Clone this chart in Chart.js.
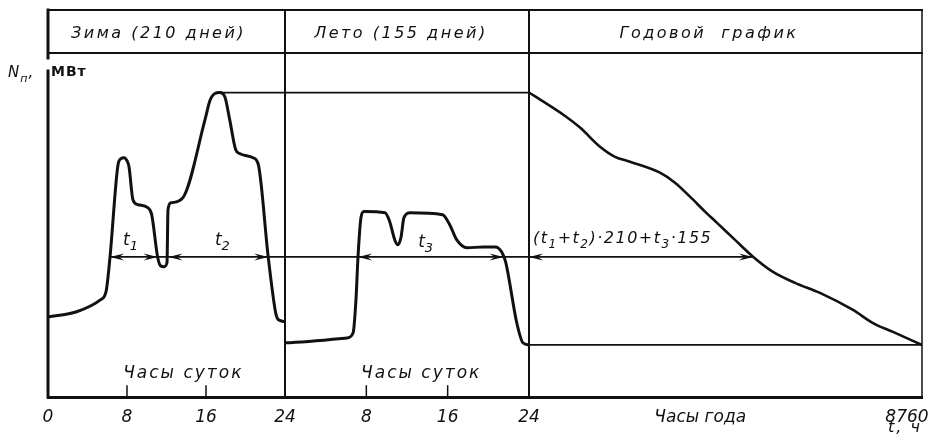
<!DOCTYPE html>
<html lang="ru">
<head>
<meta charset="utf-8">
<title>Графики нагрузки</title>
<script src="https://cdn.jsdelivr.net/npm/chart.js@4.4.1/dist/chart.umd.min.js"></script>
<style>
  html, body { margin: 0; padding: 0; background: #fff; }
  #wrap { position: relative; width: 936px; height: 444px; }
</style>
</head>
<body>
<div id="wrap"><canvas id="loadChart" width="936" height="444"></canvas></div>
<script>
// Суточные графики нагрузки (зима / лето) и годовой график по продолжительности.
// Нагрузка — в процентах от зимнего максимума.

const winterHours = [0, 2.9, 5.3, 5.87, 6.28, 7.09, 7.39, 7.7, 8.0, 8.2, 8.6, 9.1, 10.1, 10.5, 11.1, 11.4, 11.75, 12.05,
                     12.15, 12.46, 13.67, 15.9, 16.4, 16.9, 17.4, 17.9, 18.4, 19.0, 19.4, 20.76, 21.3, 22.3, 23.0, 23.2, 23.6, 24];
const winterLoad  = [26.3, 28, 31.9, 34.5, 46, 76.3, 78.3, 78.6, 77.6, 75.7, 64.8, 63.2, 62.2, 59.9, 46, 43.1, 42.8, 44.1,
                     61.5, 63.8, 65.5, 91.1, 97.4, 99.7, 100, 98.7, 91.1, 81.3, 80, 78.6, 76.3, 46, 28.6, 26, 25, 24.7];

const summerHours = [0, 6.1, 6.7, 6.98, 7.18, 7.47, 7.77, 9.84, 10.3, 10.8, 11.1, 11.4, 11.7, 12.3, 15.5, 16.2, 16.9,
                     17.9, 19.5, 20.7, 21.3, 21.7, 22.8, 23.4, 24];
const summerLoad  = [17.8, 19.4, 21.1, 31.9, 46, 58.9, 60.9, 60.5, 57.6, 51.6, 50, 52.3, 58.9, 60.5, 59.9, 56.6, 51.6,
                     49, 49.3, 49.3, 47.7, 44.4, 24.3, 17.8, 17.1];

const yearHours = [0, 357, 758, 1137, 1583, 1917, 2251, 2920, 3254, 3589, 3923, 4191, 4592, 4993, 5439, 5929, 6486,
                   7222, 7667, 8113, 8760];
const yearLoad  = [100, 96.7, 92.8, 88.5, 82.2, 78.9, 77.3, 73.7, 70.4, 65.8, 60.9, 57.2, 51.6, 46.1, 41.1, 37.5, 34.2,
                   28.6, 24.3, 21.4, 17.1];

const peakLevel = 100;     // зимний максимум
const minLevel = 17.1;     // летний минимум
const peakHour = 17.4;
const spanLevel = 46;      // уровень отсчёта t1, t2, t3
const spanT1 = [6.28, 11.1];
const spanT2 = [12.2, 22.3];
const spanT3 = [7.18, 21.5];
const spanYear = [0, 4993];

const winterTicks = [0, 8, 16, 24];
const summerTicks = [8, 16, 24];
const dayTickMarks = [8, 16];
const yearTicks = [4150, 8760];
const yearTickLabels = ['Часы года', '8760'];

const headers = ['Зима (210 дней)', 'Лето (155 дней)', 'Годовой  график'];
const headerAnchors = [11.2, 11.4, 4012];
const dayAxisTitle = 'Часы суток';
const dayAxisTitleAt = [13.7, 13.4];

const ink = '#111';
const font = '"DejaVu Sans", "Liberation Sans", sans-serif';
const headerHeight = 43;

const toXY = (xs, ys) => xs.map((x, i) => ({ x, y: ys[i] }));

function curve(data, xAxisID, width) {
    return {
        data, xAxisID, yAxisID: 'y',
        borderColor: ink, borderWidth: width,
        pointRadius: 0, cubicInterpolationMode: 'monotone',
        fill: false, borderCapStyle: 'round', borderJoinStyle: 'round',
    };
}

function flat(x0, x1, level, xAxisID) {
    return {
        data: [{ x: x0, y: level }, { x: x1, y: level }], xAxisID, yAxisID: 'y',
        borderColor: ink, borderWidth: 1.8, pointRadius: 0, fill: false,
    };
}

// нижние оси стоят в одном стеке; подписи не должны сужать область графика
function fitBottom(s) {
    s.height = 444 - 397;
    s.paddingLeft = 0;
    s.paddingRight = 0;
}

function dayAxis(weight, ticks) {
    return {
        type: 'linear', position: 'bottom', stack: 'hours', stackWeight: weight,
        min: 0, max: 24,
        afterBuildTicks: s => { s.ticks = ticks.map(v => ({ value: v })); },
        afterFit: fitBottom,
        grid: { display: false },
        border: { display: true, color: ink, width: 3 },
        ticks: { autoSkip: false, maxRotation: 0, padding: 2, color: ink,
                 font: { family: font, size: 17, style: 'italic' } },
    };
}

// подписи, рамка, стрелки отсчёта
const sketchPlugin = {
    id: 'sketch',
    afterDraw(chart) {
        const { ctx, chartArea: a, scales } = chart;
        const xw = scales.xWinter, xs = scales.xSummer, xy = scales.xYear, y = scales.y;
        const top = a.top - headerHeight;
        const div1 = xw.getPixelForValue(24), div2 = xs.getPixelForValue(24);

        const line = (x0, y0, x1, y1, w) => {
            ctx.lineWidth = w;
            ctx.beginPath(); ctx.moveTo(x0, y0); ctx.lineTo(x1, y1); ctx.stroke();
        };
        ctx.save();
        ctx.strokeStyle = ink;
        ctx.fillStyle = ink;
        ctx.lineCap = 'square';

        line(a.left, top, a.right, top, 2);
        line(a.left, a.top, a.right, a.top, 2);
        line(a.left, top, a.left, a.top + 5, 3);
        line(a.left, a.top + 18, a.left, a.bottom, 3);
        line(a.right, top, a.right, a.bottom, 1.5);
        line(div1, top, div1, a.bottom, 2);
        line(div2, top, div2, a.bottom, 2);

        // засечки часов суток
        [xw, xs].forEach(s => dayTickMarks.forEach(h => {
            const px = s.getPixelForValue(h);
            line(px, a.bottom, px, a.bottom - 11, 1.5);
        }));

        // стрелки
        const arrow = (px, py, dir) => {
            ctx.beginPath();
            ctx.moveTo(px, py);
            ctx.lineTo(px - dir * 14, py - 3.5);
            ctx.lineTo(px - dir * 9, py);
            ctx.lineTo(px - dir * 14, py + 3.5);
            ctx.closePath();
            ctx.fill();
        };
        const ay = y.getPixelForValue(spanLevel);
        [[xw, spanT1], [xw, spanT2], [xs, spanT3], [xy, spanYear]].forEach(([s, span]) => {
            arrow(s.getPixelForValue(span[0]), ay, -1);
            arrow(s.getPixelForValue(span[1]), ay, 1);
        });

        ctx.textBaseline = 'alphabetic';
        ctx.letterSpacing = '2.5px';

        // заголовки
        ctx.font = `italic 16px ${font}`;
        ctx.textAlign = 'center';
        [xw, xs, xy].forEach((s, i) => ctx.fillText(headers[i], s.getPixelForValue(headerAnchors[i]), top + 28));

        ctx.letterSpacing = '2px';
        ctx.font = `italic 17px ${font}`;
        ctx.fillText(dayAxisTitle, xw.getPixelForValue(dayAxisTitleAt[0]), 378);
        ctx.fillText(dayAxisTitle, xs.getPixelForValue(dayAxisTitleAt[1]), 378);

        // текст с нижними индексами: [[текст, индекс], ...]
        const rich = (parts, x0, base, size) => {
            ctx.textAlign = 'left';
            let x = x0;
            parts.forEach(([txt, sub]) => {
                ctx.font = `italic ${size}px ${font}`;
                ctx.fillText(txt, x, base);
                x += ctx.measureText(txt).width;
                if (sub) {
                    ctx.font = `italic ${size - 4}px ${font}`;
                    ctx.fillText(sub, x, base + 5);
                    x += ctx.measureText(sub).width;
                }
            });
            return x;
        };
        ctx.letterSpacing = '0px';
        const ty = ay - 12;
        rich([['t', '1']], xw.getPixelForValue(7.6), ty, 17);
        rich([['t', '2']], xw.getPixelForValue(16.9), ty, 17);
        rich([['t', '3']], xs.getPixelForValue(13.1), ty + 2, 17);
        ctx.letterSpacing = '1.5px';
        rich([['(t', '1'], ['+t', '2'], [')·210+t', '3'], ['·155', '']], xy.getPixelForValue(0) + 4, ty - 2, 16);

        // оси
        ctx.letterSpacing = '1px';
        rich([['N', 'п'], [',', '']], a.left - 40, a.top + 24, 15);
        ctx.font = `bold 14px ${font}`;
        ctx.textAlign = 'left';
        ctx.fillText('МВт', a.left + 3, a.top + 23);
        ctx.font = `italic 16px ${font}`;
        ctx.textAlign = 'center';
        ctx.letterSpacing = '2px';
        ctx.fillText('t, ч', xy.getPixelForValue(8760) - 17, a.bottom + 35);
        ctx.restore();
    }
};

new Chart(document.getElementById('loadChart').getContext('2d'), {
    type: 'line',
    data: {
        datasets: [
            curve(toXY(winterHours, winterLoad), 'xWinter', 3),
            curve(toXY(summerHours, summerLoad), 'xSummer', 3),
            curve(toXY(yearHours, yearLoad), 'xYear', 2.6),
            flat(peakHour, 24, peakLevel, 'xWinter'),
            flat(0, 24, peakLevel, 'xSummer'),
            flat(0, 8760, minLevel, 'xYear'),
            flat(spanT1[0], 24, spanLevel, 'xWinter'),
            flat(0, 24, spanLevel, 'xSummer'),
            flat(spanYear[0], spanYear[1], spanLevel, 'xYear'),
        ],
    },
    options: {
        responsive: false,
        devicePixelRatio: 1,
        animation: false,
        events: [],
        layout: { padding: { left: 48, right: 14, top: 53, bottom: 0 } },
        plugins: { legend: { display: false }, tooltip: { enabled: false } },
        scales: {
            xWinter: dayAxis(237, winterTicks),
            xSummer: dayAxis(244, summerTicks),
            xYear: {
                type: 'linear', position: 'bottom', stack: 'hours', stackWeight: 393,
                min: 0, max: 8760,
                afterBuildTicks: s => { s.ticks = yearTicks.map(v => ({ value: v })); },
                afterFit: fitBottom,
                grid: { display: false },
                border: { display: true, color: ink, width: 3 },
                ticks: {
                    autoSkip: false, maxRotation: 0, padding: 2, color: ink, labelOffset: -15,
                    font: { family: font, size: 17, style: 'italic' },
                    callback: (v, i) => yearTickLabels[i],
                },
            },
            y: { display: false, min: 0, max: 113 },
        },
    },
    plugins: [sketchPlugin],
});
</script>
</body>
</html>
